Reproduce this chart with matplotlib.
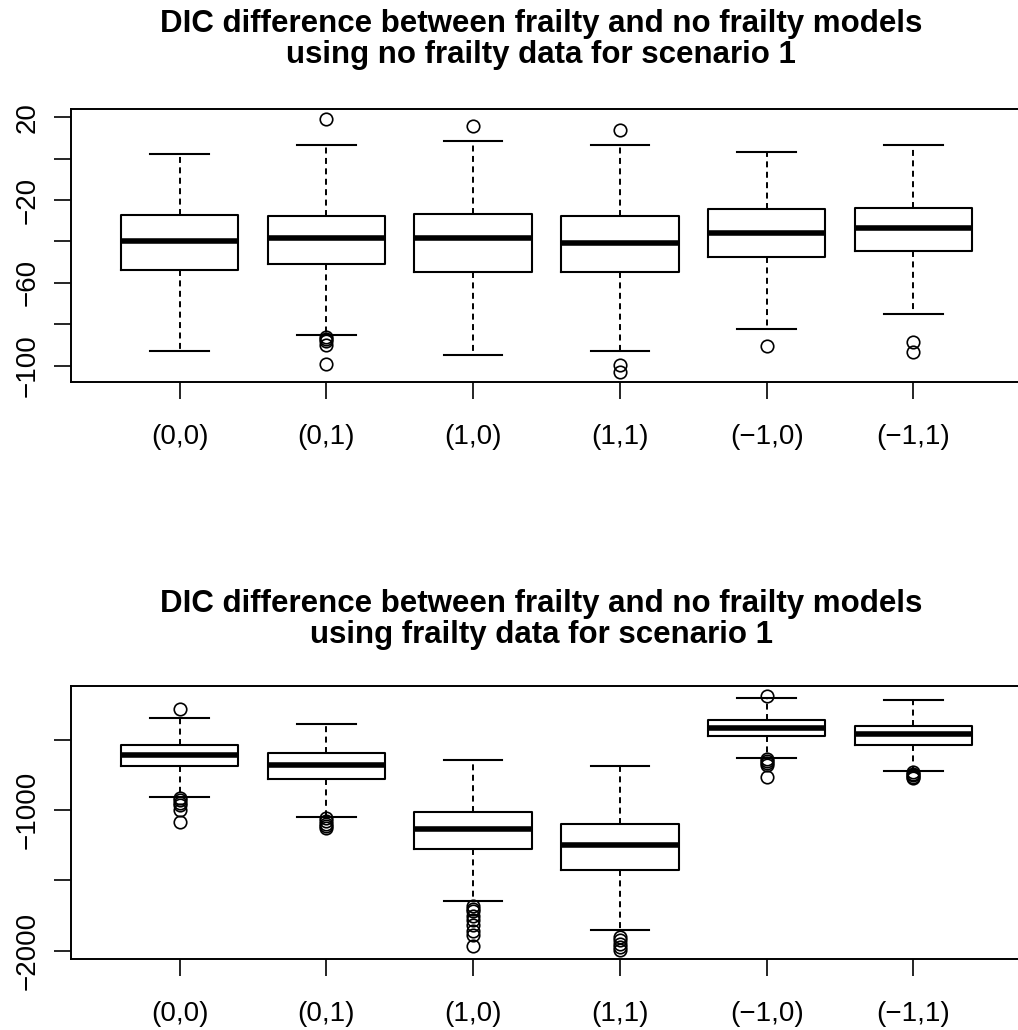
import matplotlib.pyplot as plt
import numpy as np

plt.rcParams['font.family'] = ['Liberation Sans', 'DejaVu Sans']
plt.rcParams['lines.scale_dashes'] = False

# group labels (same for both panels)
groups = ['(0,0)', '(0,1)', '(1,0)', '(1,1)', '(\u22121,0)', '(\u22121,1)']

# panel 1: no frailty data
nf_whislo = [-92.9, -85.2, -94.8, -92.8, -82.3, -74.9]
nf_q1 = [-53.9, -50.7, -54.9, -54.6, -47.6, -44.4]
nf_med = [-39.9, -38.5, -38.2, -40.9, -36.0, -33.6]
nf_q3 = [-27.3, -27.7, -26.6, -27.7, -24.5, -23.8]
nf_whishi = [2.4, 6.5, 8.7, 6.5, 3.2, 6.5]
nf_out = [[], [19.0, -86.0, -87.0, -88.0, -90.0, -99.3], [15.9],
          [14.0, -99.7, -103.0], [-90.3], [-88.7, -93.5]]

# panel 2: frailty data
fr_whislo = [-903, -1046, -1644, -1855, -629, -722]
fr_q1 = [-682, -775, -1274, -1423, -470, -535]
fr_med = [-604, -679, -1133, -1245, -411, -456]
fr_q3 = [-532, -594, -1012, -1098, -359, -401]
fr_whishi = [-342, -385, -639, -684, -202, -216]
fr_out = [[-280, -910, -925, -945, -960, -1000, -1085],
          [-1055, -1075, -1095, -1115, -1125],
          [-1680, -1700, -1720, -1750, -1780, -1820, -1860, -1890, -1970],
          [-1900, -1925, -1950, -1975, -1995],
          [-183, -635, -650, -665, -680, -760],
          [-728, -740, -752, -765, -772]]

line1 = 'DIC difference between frailty and no frailty models'
sub_nf = 'using no frailty data for scenario 1'
sub_fr = 'using frailty data for scenario 1'

W, H = 1018, 1030
fig = plt.figure(figsize=(W / 100, H / 100), dpi=100)


def panel(top, bottom, lo, q1, med, q3, hi, out, ylim, yticks, ylabels):
    # right edge sits just past the canvas, like the R device output
    ax = fig.add_axes([71 / W, 1 - bottom / H, (1022 - 71) / W, (bottom - top) / H])
    stats = []
    for i in range(len(groups)):
        stats.append(dict(med=med[i], q1=q1[i], q3=q3[i], whislo=lo[i],
                          whishi=hi[i], fliers=out[i], label=groups[i]))
    ax.bxp(stats, positions=np.arange(1, 7), widths=0.8, showfliers=True,
           boxprops=dict(color='black', lw=1.5),
           medianprops=dict(color='black', lw=4, solid_capstyle='butt'),
           whiskerprops=dict(color='black', lw=1.4, linestyle=(0, (4.3, 3.2))),
           capprops=dict(color='black', lw=1.5),
           flierprops=dict(marker='o', markersize=9, markerfacecolor='none',
                           markeredgecolor='black', markeredgewidth=1.2))
    ax.set_xlim(0.26, 6.74)
    ax.set_ylim(*ylim)
    ax.set_yticks(yticks)
    ax.set_yticklabels(ylabels, rotation=90, va='center', fontsize=20)
    ax.set_xticks(np.arange(1, 7))
    ax.set_xticklabels(groups, fontsize=20)
    ax.tick_params(axis='both', length=12, width=1.2, direction='out')
    ax.tick_params(axis='y', pad=10)
    ax.tick_params(axis='x', pad=18)
    for s in ax.spines.values():
        s.set_linewidth(1.4)
    return ax


ax1 = panel(109, 382, nf_whislo, nf_q1, nf_med, nf_q3, nf_whishi, nf_out,
            (-107.9, 24.0), [20, 0, -20, -40, -60, -80, -100],
            ['20', '', '\u221220', '', '\u221260', '', '\u2212100'])
ax2 = panel(685.7, 959.3, fr_whislo, fr_q1, fr_med, fr_q3, fr_whishi, fr_out,
            (-2062, -112), [-500, -1000, -1500, -2000],
            ['', '\u22121000', '', '\u22122000'])

for text, base in [(line1, 32), (sub_nf, 63), (line1, 612), (sub_fr, 643)]:
    fig.text(541 / W, 1 - base / H, text, ha='center', va='baseline',
             fontsize=22.5, fontweight='bold')

fig.savefig('out.png', dpi=100)
